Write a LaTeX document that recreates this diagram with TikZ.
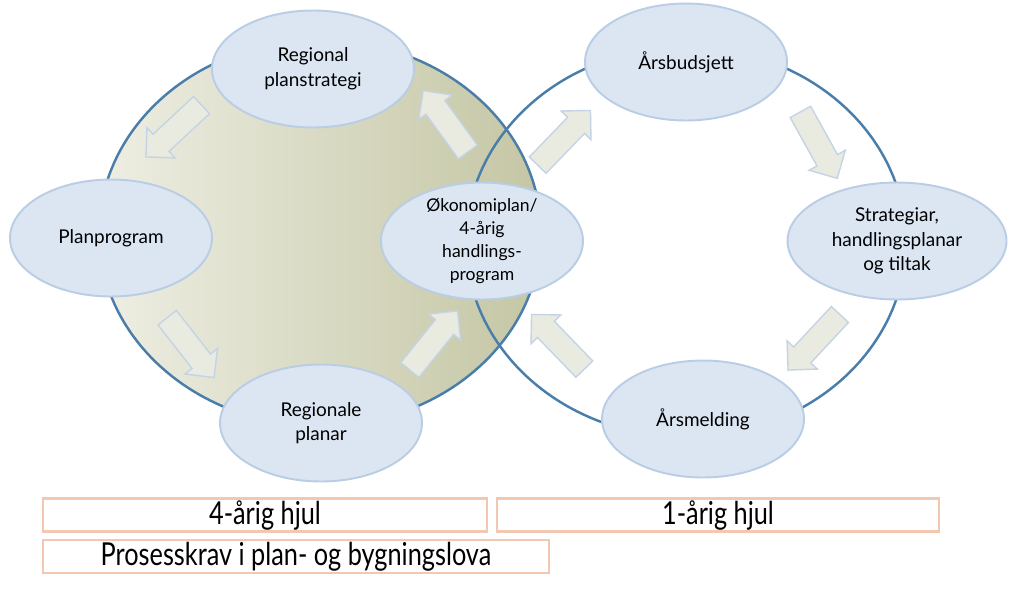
\documentclass[tikz,border=0pt]{standalone}
\usepackage{fontspec}
\setmainfont{Lato}
\newfontfamily\tagfont[FakeStretch=0.8]{Lato}
\usepackage{tikz}
\usetikzlibrary{shapes.geometric, shapes.arrows}

\definecolor{rim}{RGB}{74,126,170}
\definecolor{cellfill}{RGB}{220,230,242}
\definecolor{celledge}{RGB}{185,205,229}
\definecolor{wheellight}{RGB}{238,238,227}
\definecolor{wheeldark}{RGB}{196,198,164}
\definecolor{arrfill}{RGB}{233,235,224}
\definecolor{arredge}{RGB}{196,211,229}
\definecolor{tagedge}{RGB}{242,200,176}

\begin{document}
\begin{tikzpicture}[x=0.02cm, y=-0.02cm,
  cell/.style={ellipse, draw=celledge, fill=cellfill, line width=1.1pt, align=center, inner sep=0pt,
    minimum width=4.04cm, minimum height=2.34cm, font=\fontsize{10.8}{14}\selectfont},
  flow/.style={single arrow, draw=arredge, fill=arrfill, line width=0.8pt, inner xsep=0pt, inner ysep=0.22cm,
    minimum height=1.52cm, single arrow head extend=0.18cm},
  tag/.style={draw=tagedge, line width=1.5pt, fill=white, inner sep=0pt, minimum height=0.66cm,
    font=\tagfont\fontsize{18}{20}\selectfont}]
  \useasboundingbox (0,0) rectangle (1024,606);
  % wheels
  \shade[left color=wheellight, right color=wheeldark] (320,233) ellipse [x radius=4.42cm, y radius=3.86cm];
  \draw[rim, line width=1.4pt] (320,233) ellipse [x radius=4.42cm, y radius=3.86cm];
  \draw[rim, line width=1.4pt] (686,242) ellipse [x radius=4.4cm, y radius=3.9cm];
  % 4-year wheel arrows
  \node[flow, rotate=-137] (f1) at (178,127) {};
  \node[flow, rotate=-52] (f2) at (187,343) {};
  \node[flow, rotate=51] (f3) at (430,345) {};
  \node[flow, rotate=126] (f4) at (449,126) {};
  % 1-year wheel arrows
  \node[flow, rotate=46] (g1) at (560,142) {};
  \node[flow, rotate=-61] (g2) at (816,140) {};
  \node[flow, rotate=-133] (g3) at (818,338) {};
  \node[flow, rotate=134] (g4) at (562,346) {};
  % steps
  \node[cell] (regstrat) at (313,69) {Regional\\planstrategi};
  \node[cell] (planprog) at (111,238) {Planprogram};
  \node[cell] (regplan) at (321,423) {Regionale\\planar};
  \node[cell, inner ysep=-3pt, font=\fontsize{10}{13}\selectfont] (okplan) at (482,241)
    {Økonomiplan/\\4-årig\\handlings-\\program};
  \node[cell] (budsjett) at (686,62) {Årsbudsjett};
  \node[cell, minimum width=4.38cm] (strat) at (897,241) {Strategiar,\\handlingsplanar\\og tiltak};
  \node[cell] (melding) at (703,419) {Årsmelding};
  % legend
  \node[tag, minimum width=8.88cm] (fouryr) at (265,515) {4-årig hjul};
  \node[tag, minimum width=8.84cm] (oneyr) at (718,515) {1-årig hjul};
  \node[tag, minimum width=10.12cm] (pbl) at (296,556.5) {Prosesskrav i plan- og bygningslova};
\end{tikzpicture}
\end{document}
